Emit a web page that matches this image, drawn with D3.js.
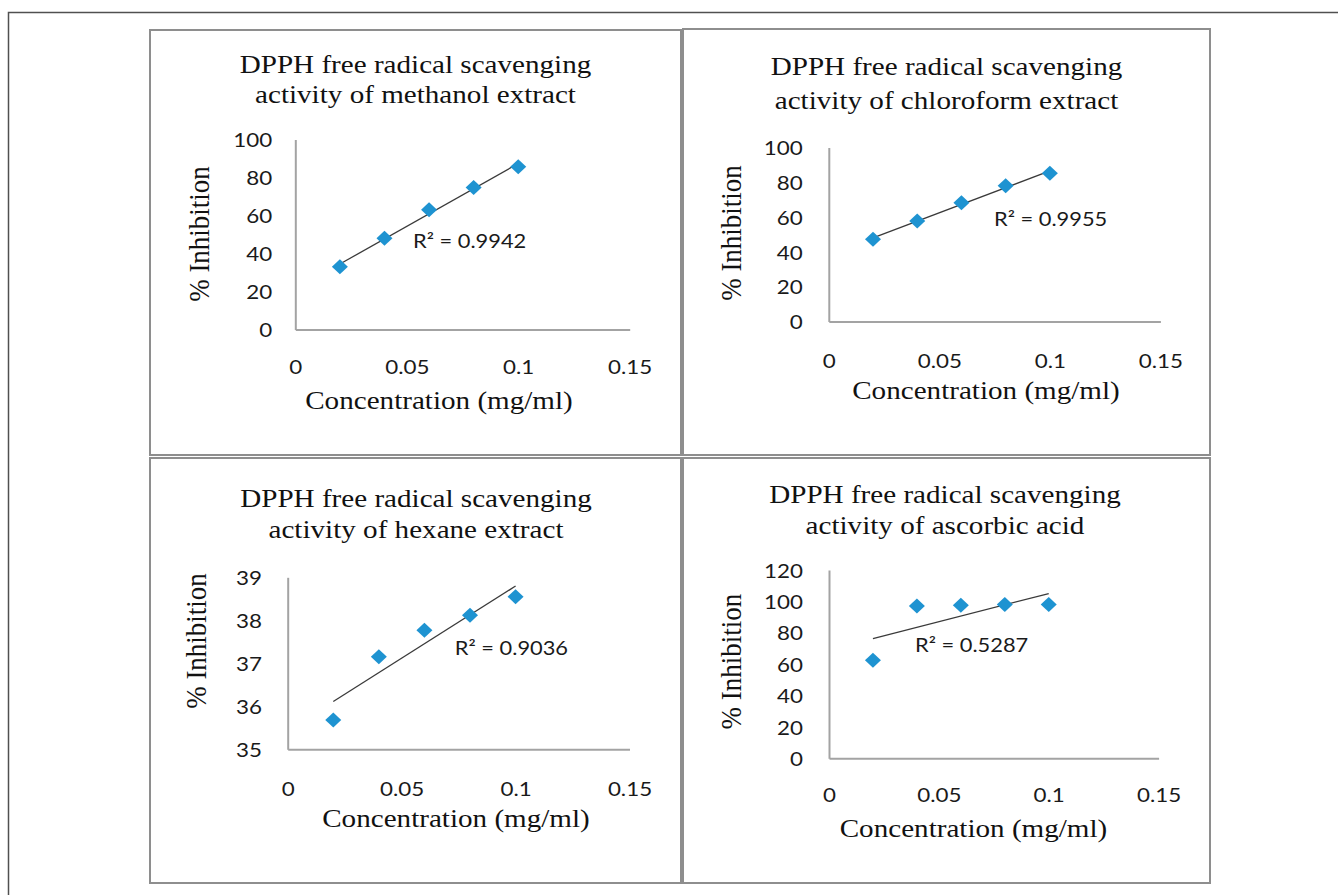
<!DOCTYPE html>
<html>
<head>
  <script src="https://cdnjs.cloudflare.com/ajax/libs/d3/7.8.5/d3.min.js"></script>
  <style>
    body { margin: 0; background: #fff; }
    .panel-box { fill: #fff; stroke: #8e8e8e; stroke-width: 2; }
    .axis path { stroke: #a3a3a3; stroke-width: 2; }
    .axis text { font-family: Lato, "Open Sans", sans-serif; font-size: 20px; fill: #1a1a1a; }
    .trend { stroke: #3a3a3a; stroke-width: 1.3; fill: none; }
    .point { fill: #1e93d1; }
    .serif { font-family: "Liberation Serif", "Times New Roman", serif; fill: #111; }
    .r2 { font-family: Lato, "Open Sans", sans-serif; font-size: 19.5px; fill: #1a1a1a; }
  </style>
</head>
<body>
  <div id="chart"></div>

  <script>
    // Data
    const concentrations = [0.02, 0.04, 0.06, 0.08, 0.1];
    const xTicks = [0, 0.05, 0.1, 0.15];

    const methanolInhibition = [33, 48, 63, 74.8, 85.7];
    const chloroformInhibition = [47.2, 57.8, 68.3, 78, 85.2];
    const hexaneInhibition = [35.68, 37.15, 37.77, 38.12, 38.55];
    const ascorbicInhibition = [62.5, 97, 97.5, 98, 98];

    const methanolTicks = [0, 20, 40, 60, 80, 100];
    const chloroformTicks = [0, 20, 40, 60, 80, 100];
    const hexaneTicks = [35, 36, 37, 38, 39];
    const ascorbicTicks = [0, 20, 40, 60, 80, 100, 120];

    const titles = [
      ["DPPH free radical scavenging", "activity of methanol extract"],
      ["DPPH free radical scavenging", "activity of chloroform extract"],
      ["DPPH free radical scavenging", "activity of hexane extract"],
      ["DPPH free radical scavenging", "activity of ascorbic acid"]
    ];
    const rSquared = ["0.9942", "0.9955", "0.9036", "0.5287"];
    const xLabel = "Concentration (mg/ml)";
    const yLabel = "% Inhibition";

    // the picture is a little wider than the fonts, stretch text to match
    const sx = 1.12;

    const panels = [
      { values: methanolInhibition, ticks: methanolTicks, box: [150, 30, 681, 455],
        xr: [295.3, 629.7], yr: [329.5, 139.5], gap: 23, titleX: 415.5, titleY: [73.3, 102.7],
        yLab: [200, 234], xLab: [439, 400], xTickY: 366.7, r2: [413, 240.7] },
      { values: chloroformInhibition, ticks: chloroformTicks, box: [683, 29, 1210, 455],
        xr: [828.8, 1160.4], yr: [321.5, 147.5], gap: 26, titleX: 946.5, titleY: [75, 109.3],
        yLab: [731.6, 233], xLab: [986, 390], xTickY: 360.7, r2: [994, 219.3] },
      { values: hexaneInhibition, ticks: hexaneTicks, box: [150, 458, 681, 883],
        xr: [287.7, 629.5], yr: [749.3, 577.3], gap: 25.7, titleX: 416, titleY: [506.7, 538.3],
        yLab: [196.5, 641], xLab: [456, 818.3], xTickY: 788.3, r2: [454.8, 648.3] },
      { values: ascorbicInhibition, ticks: ascorbicTicks, box: [683, 458, 1210, 883],
        xr: [829, 1158.6], yr: [758.3, 570], gap: 26, titleX: 945, titleY: [503.3, 534],
        yLab: [731.7, 661.7], xLab: [973.5, 827.7], xTickY: 794.3, r2: [915, 645] }
    ];

    const svg = d3.select("#chart")
      .append("svg")
        .attr("width", 1338)
        .attr("height", 895);

    svg.append("rect").attr("width", 1338).attr("height", 895).attr("fill", "#fff");

    // outer frame (cut off at right and bottom)
    svg.append("path")
      .attr("d", "M8.5,895V12.5H1338")
      .attr("fill", "none")
      .attr("stroke", "#505050")
      .attr("stroke-width", 1.5);

    function addText(g, str, x, y, cls, size, anchor, rotate) {
      return g.append("text")
        .attr("class", cls)
        .attr("transform", `translate(${x},${y}) scale(${sx},1)` + (rotate ? " rotate(-90)" : ""))
        .style("font-size", size + "px")
        .attr("text-anchor", anchor)
        .text(str);
    }

    function linearFit(xs, ys) {
      const mx = d3.mean(xs), my = d3.mean(ys);
      const sxy = d3.sum(xs, (d, i) => (d - mx) * (ys[i] - my));
      const sxx = d3.sum(xs, d => (d - mx) * (d - mx));
      const slope = sxy / sxx;
      return x => my + slope * (x - mx);
    }

    panels.forEach((p, k) => {
      const g = svg.append("g");
      const [bx0, by0, bx1, by1] = p.box;

      g.append("rect")
        .attr("class", "panel-box")
        .attr("x", bx0).attr("y", by0)
        .attr("width", bx1 - bx0).attr("height", by1 - by0);

      const x = d3.scaleLinear().domain([0, 0.15]).range(p.xr);
      const y = d3.scaleLinear().domain(d3.extent(p.ticks)).range(p.yr);

      // x axis
      const xAxis = g.append("g")
        .attr("class", "axis")
        .attr("transform", `translate(0,${p.yr[0]})`)
        .call(d3.axisBottom(x).tickValues(xTicks).tickSize(0).tickSizeOuter(0)
          .tickFormat(d => String(+d.toFixed(2))));
      xAxis.selectAll("text")
        .attr("y", null).attr("dy", "0.36em")
        .attr("transform", `translate(0,${p.xTickY - p.yr[0]}) scale(${sx},1)`);

      // y axis
      const yAxis = g.append("g")
        .attr("class", "axis")
        .attr("transform", `translate(${p.xr[0]},0)`)
        .call(d3.axisLeft(y).tickValues(p.ticks).tickSize(0).tickSizeOuter(0)
          .tickFormat(d3.format("d")));
      yAxis.selectAll("text")
        .attr("x", -p.gap / sx).attr("dy", "0.36em")
        .attr("transform", `scale(${sx},1)`);
      yAxis.selectAll(".tick line").remove();
      xAxis.selectAll(".tick line").remove();

      // trend line
      const fit = linearFit(concentrations, p.values);
      const xMin = d3.min(concentrations), xMax = d3.max(concentrations);
      g.append("line")
        .attr("class", "trend")
        .attr("x1", x(xMin)).attr("y1", y(fit(xMin)))
        .attr("x2", x(xMax)).attr("y2", y(fit(xMax)));

      // points
      g.selectAll(".point")
        .data(concentrations.map((c, i) => [c, p.values[i]]))
        .join("path")
        .attr("class", "point")
        .attr("d", d => {
          const cx = x(d[0]), cy = y(d[1]);
          return `M${cx},${cy - 7.5}L${cx + 8},${cy}L${cx},${cy + 7.5}L${cx - 8},${cy}Z`;
        });

      // R squared label
      addText(g, "R² = " + rSquared[k], p.r2[0], p.r2[1] + 7, "r2", 19.5, "start");

      // titles and axis titles
      addText(g, titles[k][0], p.titleX, p.titleY[0], "serif", 26, "middle");
      addText(g, titles[k][1], p.titleX, p.titleY[1], "serif", 26, "middle");
      addText(g, xLabel, p.xLab[0], p.xLab[1] + 9, "serif", 26, "middle");
      addText(g, yLabel, p.yLab[0] + 9, p.yLab[1], "serif", 27, "middle", true);
    });
  </script>
</body>
</html>
